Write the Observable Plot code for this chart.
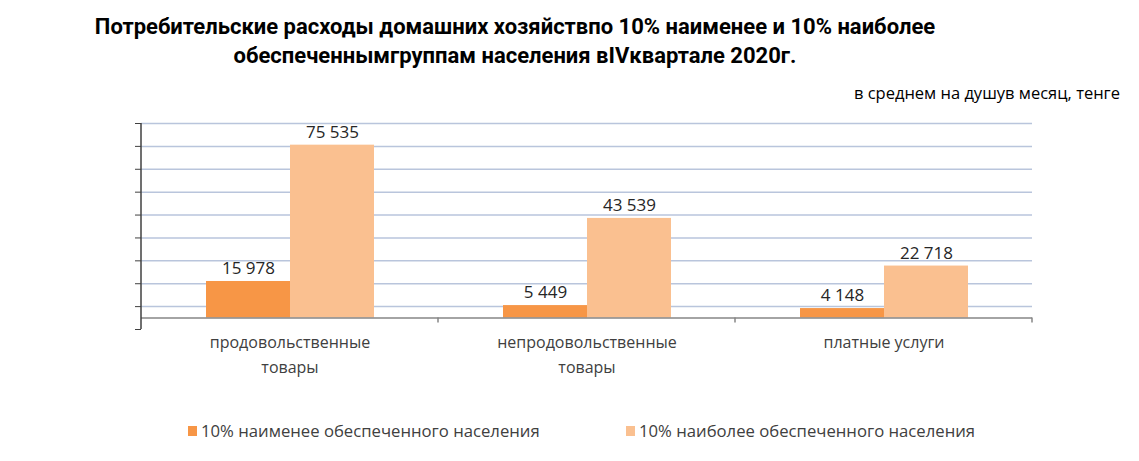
<!DOCTYPE html>
<html>
<head>
<meta charset="utf-8">
<script src="https://cdn.jsdelivr.net/npm/d3@7"></script>
<script src="https://cdn.jsdelivr.net/npm/@observablehq/plot@0.6"></script>
<style>
  body { margin: 0; background: #fff; font-family: "Open Sans", sans-serif; }
  #head { position: relative; height: 110px; }
  #title { position: absolute; left: 0; top: 12px; width: 1030px; text-align: center; font-family: "Roboto", sans-serif; font-weight: bold; font-size: 22px; line-height: 29px; color: #000; }
  #sub { position: absolute; right: 19px; top: 81px; font-size: 16.5px; color: #000; font-family: "Open Sans", sans-serif; }
  #chart svg { display: block; }
  #legend { position: relative; height: 71px; font-size: 16.7px; color: #404040; }
  .li { position: absolute; top: 29px; display: flex; align-items: center; }
  .sw { width: 9px; height: 10px; margin-right: 4px; }
</style>
</head>
<body>
<div id="head">
  <div id="title">Потребительские расходы домашних хозяйствпо 10% наименее и 10% наиболее<br>обеспеченнымгруппам населения вIVквартале 2020г.</div>
  <div id="sub">в среднем на душув месяц, тенге</div>
</div>
<div id="chart"></div>
<div id="legend"></div>
<script>
const categories = ["продовольственные товары", "непродовольственные товары", "платные услуги"];
const series = ["10% наименее обеспеченного населения", "10% наиболее обеспеченного населения"];
const lowValues = [15978, 5449, 4148];
const highValues = [75535, 43539, 22718];
const colors = ["#f79646", "#fac090"];
const yTicks = [-5000, 5000, 15000, 25000, 35000, 45000, 55000, 65000, 75000, 85000];
const gridTicks = [5000, 15000, 25000, 35000, 45000, 55000, 65000, 75000, 85000];

const data = [];
categories.forEach((c, i) => {
  data.push({category: c, series: series[0], value: lowValues[i]});
  data.push({category: c, series: series[1], value: highValues[i]});
});
const fmt = v => d3.format(",")(v).replace(/,/g, " ");

const plot = Plot.plot({
  width: 1139,
  height: 280,
  marginTop: 13,
  marginBottom: 61,
  marginLeft: 141,
  marginRight: 107,
  style: {fontFamily: "Open Sans, sans-serif", fontSize: "16px", color: "#404040", background: "#fff"},
  fx: {domain: categories, padding: 0, label: null, axis: null},
  x: {domain: series, paddingInner: 0, paddingOuter: 0.76, axis: null},
  y: {domain: [-5000, 85000], axis: null},
  color: {domain: series, range: colors},
  marks: [
    Plot.ruleY(gridTicks, {y: d => d, stroke: "#b9c5dc", strokeWidth: 1.5}),
    Plot.axisY({ticks: yTicks, tickSize: 6, tickFormat: () => "", label: null, stroke: "#404040"}),
    Plot.barY(data, {fx: "category", x: "series", y: "value", fill: "series"}),
    Plot.ruleY([0], {stroke: "#868686", strokeWidth: 1.5}),
    Plot.text(data, {fx: "category", x: "series", y: "value", text: d => fmt(d.value), dy: -13, fill: "#262626", fontSize: 17}),
    Plot.axisFx({anchor: "bottom", tickSize: 0, tickPadding: 1, lineWidth: 10, lineHeight: 1.55, label: null, fill: "#404040", fontSize: 16})
  ]
});
document.getElementById("chart").appendChild(plot);

// left axis line and category boundary ticks from the plot's own scales
const ys = plot.scale("y"), fxs = plot.scale("fx");
const svg = d3.select(plot);
const yTop = ys.apply(85000), yBot = ys.apply(-5000), y0 = ys.apply(0);
const xLeft = fxs.apply(categories[0]);
svg.append("line").attr("x1", xLeft).attr("x2", xLeft).attr("y1", yTop).attr("y2", yBot).attr("stroke", "#404040").attr("stroke-width", 1.5);
const bounds = categories.map(c => fxs.apply(c)).concat([fxs.apply(categories[categories.length - 1]) + fxs.bandwidth]);
bounds.slice(1).forEach(b => {
  svg.append("line").attr("x1", b).attr("x2", b).attr("y1", y0).attr("y2", y0 + 5).attr("stroke", "#868686").attr("stroke-width", 1.5);
});

// legend
const lg = document.getElementById("legend");
const lefts = [188, 626];
series.forEach((s, i) => {
  const it = document.createElement("div");
  it.className = "li";
  it.style.left = lefts[i] + "px";
  it.innerHTML = `<div class="sw" style="background:${colors[i]}"></div><span>${s}</span>`;
  lg.appendChild(it);
});
</script>
</body>
</html>
